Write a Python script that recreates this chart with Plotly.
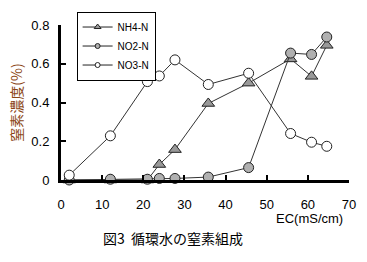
import plotly.graph_objects as go

ec = [2, 12, 21, 23.9, 27.7, 35.8, 45.6, 55.8, 60.9, 64.6]
nh4 = [0.0, 0.0, 0.0, 0.08, 0.157, 0.395, 0.50, 0.625, 0.535, 0.695]
no2 = [0.0, 0.004, 0.004, 0.008, 0.008, 0.015, 0.064, 0.655, 0.648, 0.738]
no3 = [0.025, 0.228, 0.508, 0.537, 0.62, 0.493, 0.551, 0.24, 0.195, 0.174]

series_names = ["NH4-N", "NO2-N", "NO3-N"]

x_ticks = [0, 10, 20, 30, 40, 50, 60, 70]
y_ticks = [0, 0.2, 0.4, 0.6, 0.8]
y_tick_text = ["0", "0.2", "0.4", "0.6", "0.8"]

font_main = "Liberation Sans, Arial, sans-serif"
font_cjk = "Noto Sans CJK JP, sans-serif"

styles = [
    dict(symbol="triangle-up", size=11, color="#999999"),
    dict(symbol="circle", size=10, color="#b0b0b0"),
    dict(symbol="circle", size=10, color="white"),
]
legend_sizes = [6, 5, 5]

fig = go.Figure()
for name, ys, st in zip(series_names, [nh4, no2, no3], styles):
    fig.add_trace(go.Scatter(
        x=ec, y=ys, name=name, mode="lines+markers", showlegend=False,
        line=dict(color="#333333", width=1),
        marker=dict(symbol=st["symbol"], size=st["size"], color=st["color"],
                    line=dict(color="#222222", width=1)),
        cliponaxis=False))
# legend-only entries with smaller markers
for name, st, ls in zip(series_names, styles, legend_sizes):
    fig.add_trace(go.Scatter(
        x=[None], y=[None], name=name, mode="lines+markers",
        line=dict(color="#222222", width=1),
        marker=dict(symbol=st["symbol"], size=ls, color=st["color"],
                    line=dict(color="#222222", width=1))))

plot_w = 367 - 61 - 11
plot_h = 262 - 19 - 82

fig.update_layout(
    width=367, height=262,
    margin=dict(l=61, r=11, t=19, b=82),
    paper_bgcolor="white", plot_bgcolor="white",
    font=dict(family=font_main, size=12, color="black"),
    showlegend=True,
    legend=dict(x=(77 - 61) / plot_w, y=(180 - 5) / plot_h,
                xanchor="left", yanchor="top",
                bordercolor="black", borderwidth=1, bgcolor="white",
                font=dict(size=10, family=font_main),
                tracegroupgap=0, itemwidth=30, itemsizing="trace"),
    xaxis=dict(range=[0, 70], tickvals=x_ticks, ticks="inside", ticklen=5,
               tickwidth=2, tickcolor="black", showline=True, linewidth=3,
               linecolor="black", showgrid=False, zeroline=False,
               ticklabelstandoff=10,
               tickfont=dict(size=13, family=font_main)),
    yaxis=dict(range=[0, 0.8], tickvals=y_ticks, ticktext=y_tick_text,
               ticks="inside", ticklen=5, tickwidth=2, tickcolor="black",
               showline=True, linewidth=3, linecolor="black",
               showgrid=False, zeroline=False,
               ticklabelstandoff=6,
               tickfont=dict(size=13, family=font_main),
               title=dict(text="窒素濃度(%)", standoff=6,
                          font=dict(family=font_cjk, size=14, color="#8B4513"))),
    annotations=[
        dict(text="EC(mS/cm)", x=(352 - 61) / plot_w, y=(180 - 220) / plot_h,
             xref="paper", yref="paper", xanchor="right", yanchor="middle",
             showarrow=False, font=dict(size=13, family=font_main)),
        dict(text="図3  循環水の窒素組成", x=(176 - 61) / plot_w, y=(180 - 240) / plot_h,
             xref="paper", yref="paper", xanchor="center", yanchor="middle",
             showarrow=False, font=dict(size=14, family=font_cjk)),
    ],
)

fig.write_html("out.html")
